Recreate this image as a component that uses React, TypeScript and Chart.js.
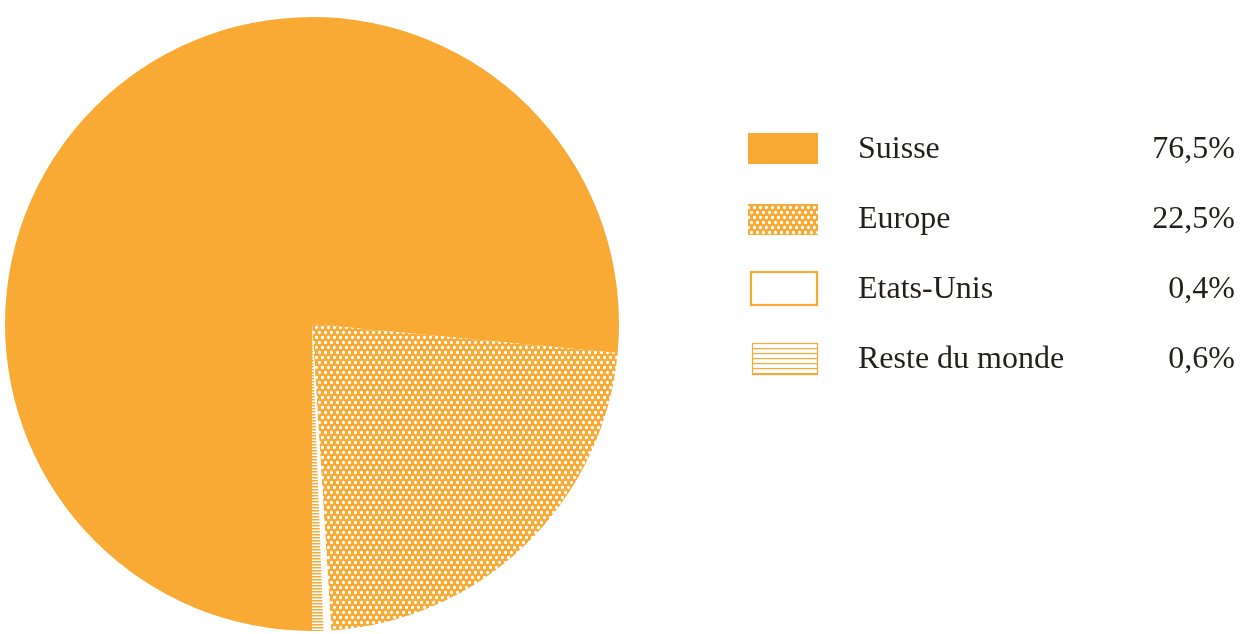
import React, { useEffect, useRef } from "react";
import { Chart, registerables } from "chart.js";

Chart.register(...registerables);

const categories = ["Suisse", "Europe", "Etats-Unis", "Reste du monde"];
const shares = [76.5, 22.5, 0.4, 0.6];

const ORANGE = "#F9AA35";
const TEXT = "#231f1c";

function makeDots(): CanvasPattern | string {
  const c = document.createElement("canvas");
  c.width = 6;
  c.height = 10;
  const x = c.getContext("2d");
  if (!x) return ORANGE;
  x.fillStyle = ORANGE;
  x.fillRect(0, 0, 6, 10);
  x.fillStyle = "#ffffff";
  x.beginPath();
  x.arc(1.5, 2.5, 1.65, 0, Math.PI * 2);
  x.closePath();
  x.moveTo(4.5 + 1.65, 7.5);
  x.arc(4.5, 7.5, 1.65, 0, Math.PI * 2);
  x.closePath();
  x.fill();
  const p = x.createPattern(c, "repeat");
  return p || ORANGE;
}

function makeLines(period: number, thick: number): CanvasPattern | string {
  const c = document.createElement("canvas");
  c.width = 4;
  c.height = period;
  const x = c.getContext("2d");
  if (!x) return ORANGE;
  x.fillStyle = "#ffffff";
  x.fillRect(0, 0, 4, period);
  x.fillStyle = ORANGE;
  x.fillRect(0, 0, 4, thick);
  const p = x.createPattern(c, "repeat");
  return p || ORANGE;
}

export default function App() {
  const ref = useRef<HTMLCanvasElement | null>(null);

  useEffect(() => {
    if (!ref.current) return;
    const dots = makeDots();
    const lines = makeLines(3, 1.5);

    const legendPlugin = {
      id: "sideLegend",
      afterDraw(chart: any) {
        const ctx = chart.ctx as CanvasRenderingContext2D;
        const labels = chart.data.labels as string[];
        const vals = chart.data.datasets[0].data as number[];
        ctx.save();
        const rowGap = 70;
        const top0 = 133;
        labels.forEach((lab, i) => {
          const y = top0 + i * rowGap;
          const sx = 748;
          const w = 70;
          const h = 31;
          if (i === 0) {
            ctx.fillStyle = ORANGE;
            ctx.fillRect(sx, y, w, h);
          } else if (i === 1) {
            ctx.fillStyle = dots as any;
            ctx.fillRect(sx, y + 1, w, h);
          } else if (i === 2) {
            ctx.fillStyle = "#ffffff";
            ctx.fillRect(sx + 2, y, w - 2, h + 1);
            ctx.strokeStyle = ORANGE;
            ctx.lineWidth = 2.2;
            ctx.strokeRect(sx + 3, y - 1, w - 4, h + 2);
          } else {
            ctx.fillStyle = "#ffffff";
            ctx.fillRect(sx + 4, y, w - 4, h);
            ctx.strokeStyle = ORANGE;
            ctx.lineWidth = 1.2;
            ctx.strokeRect(sx + 4.5, y + 0.5, w - 5, h);
            for (let ly = y + 5; ly < y + h; ly += 5) {
              ctx.fillStyle = ORANGE;
              ctx.fillRect(sx + 4, ly, w - 4, 1.2);
            }
          }
          ctx.fillStyle = TEXT;
          ctx.font = "32px 'Liberation Serif', serif";
          ctx.textBaseline = "alphabetic";
          ctx.textAlign = "left";
          const base = y + 25;
          ctx.fillText(lab, 858, base);
          ctx.textAlign = "right";
          const pct = vals[i].toFixed(1).replace(".", ",") + "%";
          ctx.fillText(pct, 1235, base);
        });
        ctx.restore();
      },
    };

    const chart = new Chart(ref.current, {
      type: "pie",
      data: {
        labels: categories,
        datasets: [
          {
            data: shares,
            backgroundColor: [ORANGE, dots as any, "#ffffff", lines as any],
            borderWidth: 0,
          },
        ],
      },
      options: {
        responsive: false,
        animation: false,
        rotation: 180,
        layout: { padding: { left: 5, top: 17, right: 622, bottom: 3 } },
        plugins: {
          legend: { display: false },
          tooltip: { enabled: false },
        },
      },
      plugins: [legendPlugin],
    });
    return () => chart.destroy();
  }, []);

  return (
    <div style={{ position: "absolute", left: 0, top: 0, width: 1241, height: 634, background: "#ffffff" }}>
      <canvas ref={ref} width={1241} height={634} style={{ display: "block" }} />
    </div>
  );
}
